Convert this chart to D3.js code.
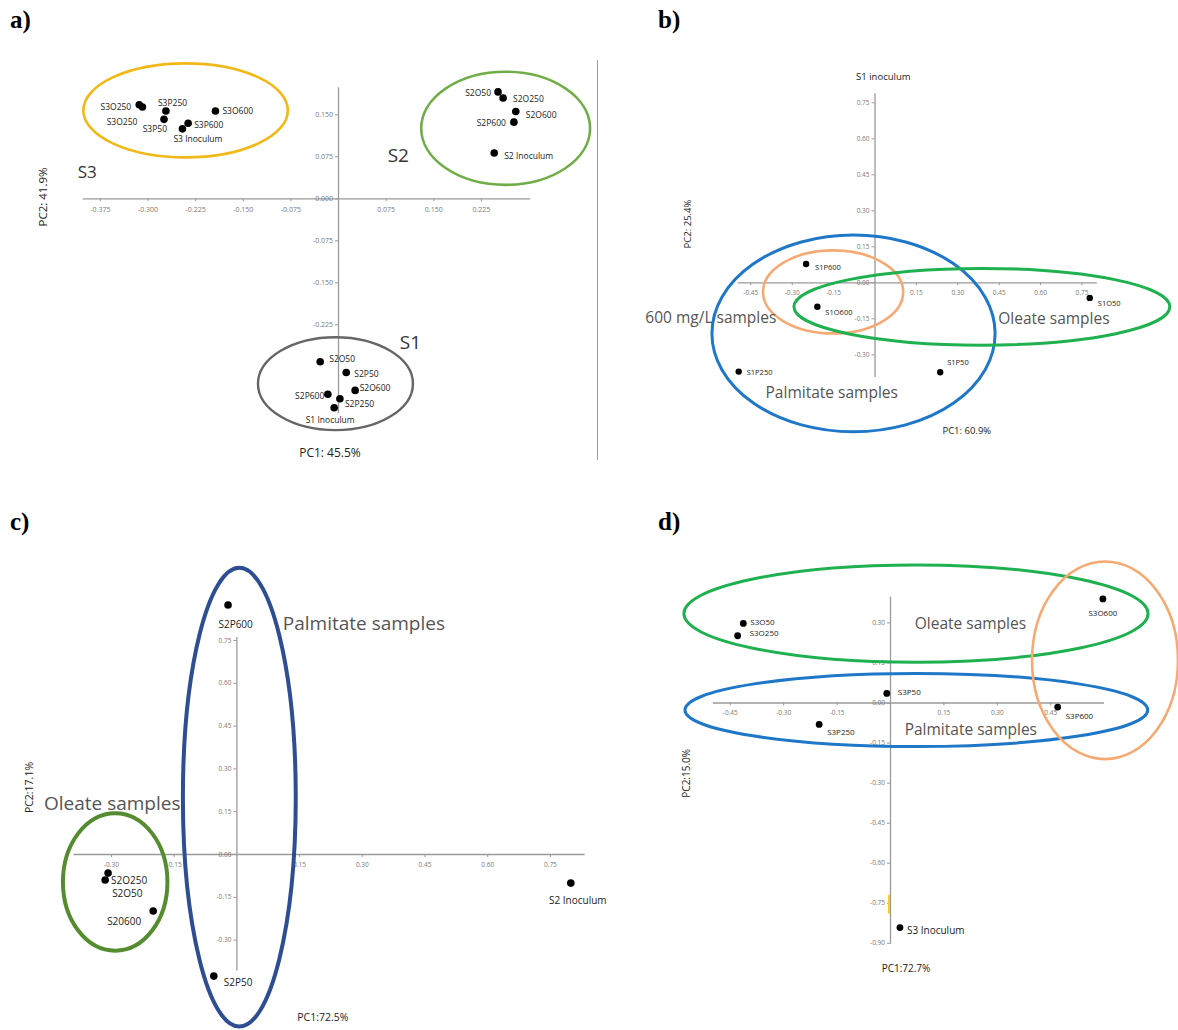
<!DOCTYPE html>
<html><head><meta charset="utf-8">
<script src="https://cdn.jsdelivr.net/npm/d3@7"></script>
<style>body{margin:0;background:#fff}svg{display:block}</style>
</head><body>
<svg id="chart" width="1178" height="1030"></svg>
<script>
// ---------- DATA ----------
// Panel a
const aNames = ["S3O250","S3O250","S3P250","S3P50","S3P600","S3 Inoculum","S3O600",
  "S2O50","S2O250","S2O600","S2P600","S2 Inoculum",
  "S2O50","S2P50","S2O600","S2P600","S2P250","S1 Inoculum"];
const aPC1 = [-0.313,-0.308,-0.271,-0.274,-0.236,-0.245,-0.193,
  0.252,0.260,0.280,0.277,0.246,
  -0.028,0.013,0.027,-0.016,0.003,-0.006];
const aPC2 = [0.167,0.163,0.156,0.141,0.134,0.124,0.156,
  0.190,0.179,0.155,0.136,0.081,
  -0.292,-0.311,-0.343,-0.350,-0.358,-0.374];
const aXTicks = [-0.375,-0.300,-0.225,-0.150,-0.075,0.075,0.150,0.225];
const aYTicks = [0.150,0.075,0.000,-0.075,-0.150,-0.225];
const aGroupNames = ["S3 group","S2 group","S1 group"];
const aGroupCenter = [[-0.240,0.157],[0.264,0.125],[-0.004,-0.331]];
const aGroupRadii = [[0.161,0.084],[0.133,0.101],[0.122,0.083]];
const aNotes = ["S3","S2","S1"];
const aNotePos = [[-0.395,0.047],[0.095,0.077],[0.114,-0.257]];

// Panel b
const bNames = ["S1P600","S1O600","S1O50","S1P250","S1P50"];
const bPC1 = [-0.248,-0.207,0.780,-0.492,0.238];
const bPC2 = [0.076,-0.102,-0.065,-0.372,-0.375];
const bXTicks = [-0.45,-0.30,-0.15,0.15,0.30,0.45,0.60,0.75];
const bYTicks = [0.75,0.60,0.45,0.30,0.15,0.00,-0.15,-0.30];
const bGroupNames = ["Palmitate","600 mg/L","Oleate"];
const bGroupCenter = [[-0.076,-0.213],[-0.150,-0.040],[0.389,-0.102]];
const bGroupRadii = [[0.513,0.410],[0.254,0.173],[0.681,0.160]];
const bNotes = ["600 mg/L samples","Oleate samples","Palmitate samples","S1 inoculum"];
const bNotePos = [[-0.593,-0.143],[0.650,-0.150],[-0.155,-0.456],[0.032,0.857]];

// Panel c
const cNames = ["S2P600","S2O250","S2O50","S20600","S2P50","S2 Inoculum"];
const cPC1 = [-0.020,-0.307,-0.314,-0.199,-0.054,0.800];
const cPC2 = [0.873,-0.067,-0.091,-0.200,-0.428,-0.102];
const cXTicks = [-0.30,-0.15,0.15,0.30,0.45,0.60,0.75];
const cYTicks = [0.75,0.60,0.45,0.30,0.15,0.00,-0.15,-0.30];
const cGroupNames = ["Oleate","Palmitate"];
const cGroupCenter = [[-0.290,-0.098],[0.007,0.199]];
const cGroupRadii = [[0.125,0.241],[0.135,0.804]];
const cNotes = ["Palmitate samples","Oleate samples"];
const cNotePos = [[0.305,0.809],[-0.297,0.178]];

// Panel d
const dNames = ["S3O50","S3O250","S3P50","S3P600","S3P250","S3O600","S3 Inoculum"];
const dPC1 = [-0.412,-0.428,-0.009,0.471,-0.199,0.598,0.028];
const dPC2 = [0.296,0.250,0.034,-0.017,-0.082,0.388,-0.843];
const dXTicks = [-0.45,-0.30,-0.15,0.15,0.30,0.45];
const dYTicks = [0.30,0.15,0.00,-0.15,-0.30,-0.45,-0.60,-0.75,-0.90];
const dGroupNames = ["Oleate","Palmitate","600 mg/L"];
const dGroupCenter = [[0.073,0.333],[0.074,-0.028],[0.604,0.158]];
const dGroupRadii = [[0.652,0.182],[0.650,0.137],[0.205,0.370]];
const dNotes = ["Oleate samples","Palmitate samples"];
const dNotePos = [[0.226,0.297],[0.227,-0.100]];

// ---------- LAYOUT / STYLE ----------
const svg = d3.select("#chart");
const FONT = "'Open Sans', 'DejaVu Sans', sans-serif";

const panels = [
  {id:"a", tag:"a)", tagPos:[10,28],
   x0:338, kx:635, y0:198.3, ky:560, xExt:[-0.403,0.302], yExt:[-0.383,0.199],
   digits:3, tickFont:7, labelFont:8.5, r:3.8,
   names:aNames, xs:aPC1, ys:aPC2, xTicks:aXTicks, yTicks:aYTicks,
   gC:aGroupCenter, gR:aGroupRadii, gColor:["#f2b817","#70ad47","#666666"], gWidth:[2.6,2.6,2.4],
   notes:aNotes, notePos:aNotePos, noteFont:[17,19,19], noteColor:"#333",
   labels:[[-8,2,"end"],[-5,14,"end"],[-8,-8,"start"],[3,9,"end"],[6,1,"start"],[-9,10,"start"],[7,0,"start"],
           [-7,1,"end"],[10,0,"start"],[10,2.5,"start"],[-8,0,"end"],[10,3,"start"],
           [9,-3,"start"],[8,1,"start"],[4.5,-3,"start"],[-3.5,1,"end"],[5,5,"start"],[-4,12,"middle"]],
   pc1:"PC1: 45.5%", pc1Pos:[330,452], pc1Font:12,
   pc2:"PC2: 41.9%", pc2Pos:[42,197], pc2Font:11.5},
  {id:"b", tag:"b)", tagPos:[658,28],
   x0:874.5, kx:276, y0:282.3, ky:240, xExt:[-0.497,0.804], yExt:[-0.393,0.79],
   digits:2, tickFont:6.5, labelFont:7.5, r:3.2,
   names:bNames, xs:bPC1, ys:bPC2, xTicks:bXTicks, yTicks:bYTicks,
   gC:bGroupCenter, gR:bGroupRadii, gColor:["#1f77c8","#f4aa72","#1fb14f"], gWidth:[3,2.6,3],
   notes:bNotes, notePos:bNotePos, noteFont:[15.5,15.5,15.5,9.5], noteColor:"#555",
   labels:[[9,3,"start"],[8,5,"start"],[8,5,"start"],[8,0,"start"],[7,-10,"start"]],
   pc1:"PC1: 60.9%", pc1Pos:[966.8,430], pc1Font:9.5,
   pc2:"PC2: 25.4%", pc2Pos:[687.5,224], pc2Font:9.5},
  {id:"c", tag:"c)", tagPos:[10,530],
   x0:236.4, kx:418, y0:854, ky:285.3, xExt:[-0.391,0.832], yExt:[-0.407,0.762],
   digits:2, tickFont:6.5, labelFont:10, r:3.8,
   names:cNames, xs:cPC1, ys:cPC2, xTicks:cXTicks, yTicks:cYTicks,
   gC:cGroupCenter, gR:cGroupRadii, gColor:["#548c2f","#2e4d92"], gWidth:[4,4],
   notes:cNotes, notePos:cNotePos, noteFont:[19,19], noteColor:"#555",
   labels:[[-9.6,19,"start"],[3,7,"start"],[7,13,"start"],[-12,10,"end"],[10,6,"start"],[7,17,"middle"]],
   pc1:"PC1:72.5%", pc1Pos:[322.8,1017], pc1Font:10.5,
   pc2:"PC2:17.1%", pc2Pos:[28.7,787.5], pc2Font:10.5},
  {id:"d", tag:"d)", tagPos:[658,530],
   x0:890, kx:356, y0:702.5, ky:267, xExt:[-0.499,0.600], yExt:[-0.902,0.399],
   digits:2, tickFont:6.5, labelFont:8, r:3.4,
   names:dNames, xs:dPC1, ys:dPC2, xTicks:dXTicks, yTicks:dYTicks,
   gC:dGroupCenter, gR:dGroupRadii, gColor:["#1fb14f","#1f77c8","#f4aa72"], gWidth:[3,3,2.6],
   notes:dNotes, notePos:dNotePos, noteFont:[15.5,15.5], noteColor:"#555",
   labels:[[7,-2,"start"],[12,-3,"start"],[11,-2,"start"],[8,8,"start"],[8,7,"start"],[0,14,"middle"],[7,2,"start",10]],
   pc1:"PC1:72.7%", pc1Pos:[906,968.3], pc1Font:10,
   pc2:"PC2:15.0%", pc2Pos:[685.5,773.3], pc2Font:10}
];

function fmt(digits){ return v => v.toFixed(digits); }

panels.forEach(p => {
  const g = svg.append("g").attr("class","panel-"+p.id);
  const x = d3.scaleLinear().domain(p.xExt).range(p.xExt.map(v => p.x0 + p.kx*v));
  const y = d3.scaleLinear().domain(p.yExt).range(p.yExt.map(v => p.y0 - p.ky*v));

  // axes through origin
  const xAxis = d3.axisBottom(x).tickValues(p.xTicks).tickSize(3).tickSizeOuter(0)
      .tickPadding(p.id==="a"?6:5).tickFormat(fmt(p.digits));
  const yAxis = d3.axisLeft(y).tickValues(p.yTicks).tickSize(3).tickSizeOuter(0)
      .tickPadding(2).tickFormat(fmt(p.digits));
  const gx = g.append("g").attr("transform",`translate(0,${y(0)})`).call(xAxis);
  const gy = g.append("g").attr("transform",`translate(${x(0)},0)`).call(yAxis);
  [gx,gy].forEach(ax => {
    ax.select(".domain").attr("stroke","#9a9a9a").attr("stroke-width",1.3);
    ax.selectAll(".tick line").attr("stroke","#9a9a9a");
    ax.selectAll(".tick text").attr("fill","#7a7a7a").attr("font-size",p.tickFont)
      .attr("font-family",FONT);
  });

  // group ellipses
  g.selectAll("ellipse.grp").data(p.gC).join("ellipse").attr("class","grp")
    .attr("cx",d => x(d[0])).attr("cy",d => y(d[1]))
    .attr("rx",(d,i) => Math.abs(x(p.gR[i][0]) - x(0)))
    .attr("ry",(d,i) => Math.abs(y(p.gR[i][1]) - y(0)))
    .attr("fill","none").attr("stroke",(d,i)=>p.gColor[i]).attr("stroke-width",(d,i)=>p.gWidth[i]);

  // annotations
  g.selectAll("text.note").data(p.notes).join("text").attr("class","note")
    .attr("x",(d,i)=>x(p.notePos[i][0])).attr("y",(d,i)=>y(p.notePos[i][1]))
    .attr("text-anchor","middle").attr("dominant-baseline","central")
    .attr("font-family",FONT).attr("font-size",(d,i)=>p.noteFont[i])
    .attr("fill",(d,i)=> (p.id==="b" && i===3) ? "#222" : p.noteColor)
    .text(d=>d);

  // points
  const idx = d3.range(p.names.length);
  g.selectAll("circle.pt").data(idx).join("circle").attr("class","pt")
    .attr("cx",i=>x(p.xs[i])).attr("cy",i=>y(p.ys[i])).attr("r",p.r).attr("fill","#000");
  g.selectAll("text.lbl").data(idx).join("text").attr("class","lbl")
    .attr("x",i=>x(p.xs[i]) + p.labels[i][0]).attr("y",i=>y(p.ys[i]) + p.labels[i][1])
    .attr("text-anchor",i=>p.labels[i][2]).attr("dominant-baseline","central")
    .attr("font-family",FONT).attr("font-size",i=>p.labels[i][3]||p.labelFont)
    .attr("fill","#222").text(i=>p.names[i]);

  // axis titles
  g.append("text").attr("x",p.pc1Pos[0]).attr("y",p.pc1Pos[1])
    .attr("text-anchor","middle").attr("dominant-baseline","central")
    .attr("font-family",FONT).attr("font-size",p.pc1Font).attr("fill","#222").text(p.pc1);
  g.append("text").attr("transform",`translate(${p.pc2Pos[0]},${p.pc2Pos[1]}) rotate(-90)`)
    .attr("text-anchor","middle").attr("dominant-baseline","central")
    .attr("font-family",FONT).attr("font-size",p.pc2Font).attr("fill","#222").text(p.pc2);

  // panel tag
  g.append("text").attr("x",p.tagPos[0]).attr("y",p.tagPos[1])
    .attr("font-family","'Liberation Serif','Times New Roman',serif").attr("font-weight","bold")
    .attr("font-size",25).attr("fill","#000").text(p.tag);

  if (p.id === "d") {
    g.append("line").attr("x1",x(0)-1).attr("x2",x(0)-1)
      .attr("y1",y(-0.72)).attr("y2",y(-0.79)).attr("stroke","#f5d020").attr("stroke-width",2);
  }
});

// frame line at right of panel a
svg.append("line").attr("x1",597.5).attr("x2",597.5).attr("y1",60).attr("y2",460)
  .attr("stroke","#9a9a9a").attr("stroke-width",1);
</script>
</body></html>
